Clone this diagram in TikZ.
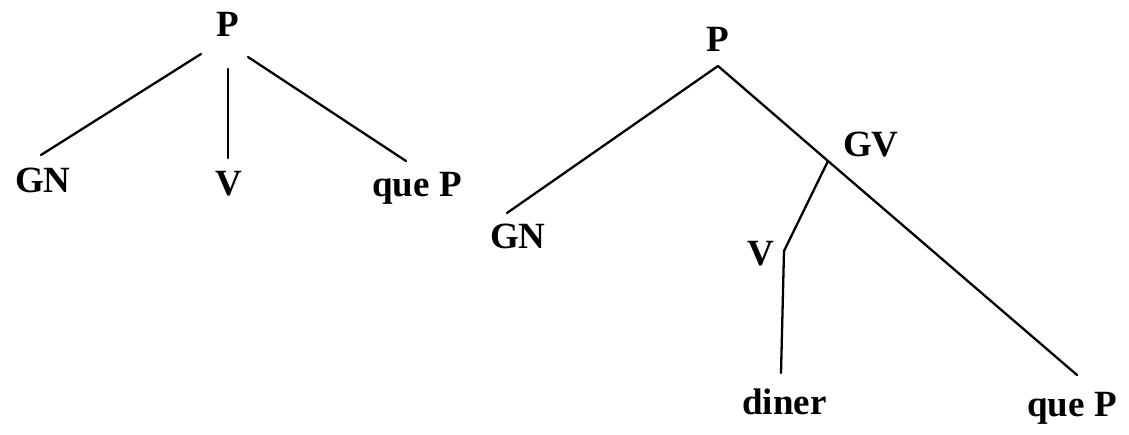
\documentclass[tikz,border=0pt]{standalone}
\usepackage{fontspec}
\setmainfont{Liberation Serif}
\tikzset{
  lbl/.style={anchor=base west, inner sep=0pt, font=\fontsize{37}{40}\selectfont\bfseries},
  branch/.style={line width=2.3pt, line cap=round}
}
\begin{document}
\begin{tikzpicture}[x=1pt,y=-1pt]
\useasboundingbox (0,0) rectangle (1129,435);
% left tree
\node[lbl] (LP) at (216,37) {P};
\node[lbl] (LGN) at (15,193) {GN};
\node[lbl] (LV) at (215,196) {V};
\node[lbl] (LQ) at (372,197) {que P};
\coordinate (LPa) at (201,54);
\coordinate (LPb) at (228,69);
\coordinate (LPc) at (248,57);
\coordinate (LGNt) at (41,155);
\coordinate (LVt) at (228,158);
\coordinate (LQt) at (406,161);
\draw[branch] (LPa) -- (LGNt);
\draw[branch] (LPb) -- (LVt);
\draw[branch] (LPc) -- (LQt);
% right tree
\node[lbl] (RP) at (706,52) {P};
\node[lbl] (RGN) at (490,249) {GN};
\node[lbl] (RGV) at (843,157) {GV};
\node[lbl] (RV) at (747,266) {V};
\node[lbl] (RD) at (742,414) {diner};
\node[lbl] (RQ) at (1027,416) {que P};
\coordinate (RPa) at (718,66);
\coordinate (RGNt) at (507,213);
\coordinate (RGVj) at (828,161);
\coordinate (RQt) at (1077,375);
\coordinate (RVj) at (784,251);
\coordinate (RDt) at (781,373);
\draw[branch] (RPa) -- (RGNt);
\draw[branch] (RPa) -- (RGVj) -- (RQt);
\draw[branch] (RGVj) -- (RVj) -- (RDt);
\end{tikzpicture}
\end{document}
